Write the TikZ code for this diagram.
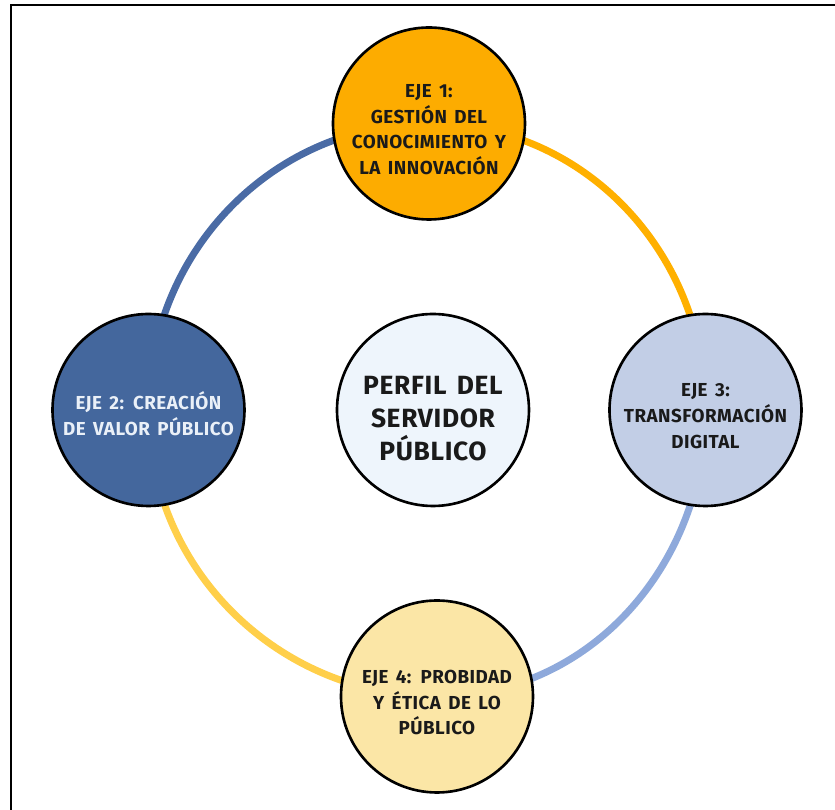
\documentclass[tikz,border=0pt]{standalone}
\usepackage{fontspec}
\setmainfont{Fira Sans}[LetterSpace=2.5, WordSpace=1.5]
\usepackage{tikz}
\usetikzlibrary{calc, backgrounds}

\definecolor{Naranja}{HTML}{FDAC00}
\definecolor{AnilloNaranja}{HTML}{FFB000}
\definecolor{AzulOscuro}{HTML}{44679D}
\definecolor{AnilloAzulOscuro}{HTML}{4A6BA5}
\definecolor{AzulClaro}{HTML}{C2CEE6}
\definecolor{AnilloAzulClaro}{HTML}{8EA9DB}
\definecolor{Crema}{HTML}{FBE6A6}
\definecolor{AnilloAmarillo}{HTML}{FFCF4A}
\definecolor{Hielo}{HTML}{EEF5FC}
\definecolor{Tinta}{HTML}{1A1A1A}
\definecolor{Blanco}{HTML}{EAF0F8}

\providecommand{\bajar}{\rule{0pt}{1.35em}}

\tikzset{
  eje/.style={circle, draw=black, line width=1.5pt, minimum size=3.84cm, inner sep=0pt,
    align=center, text=Tinta, font=\bfseries\fontsize{10.7}{14.6}\selectfont},
  perfil/.style={eje, font=\bfseries\fontsize{15}{18.8}\selectfont},
  anillo/.style={line width=0.14cm},
}

\begin{document}
\begin{tikzpicture}

	\def\rx{5.57}
	\def\ry{5.73}

	\useasboundingbox (-8.54,-8.0) rectangle (8.16,8.2);
	\draw[line width=0.04cm] (-8.32,-9) -- (-8.32,8.09) -- (9,8.09);

	\node[eje, fill=Naranja] (Eje1) at (0.04,\ry) {\bajar EJE 1:\\GESTIÓN DEL\\CONOCIMIENTO Y\\LA INNOVACIÓN};
	\node[eje, fill=AzulOscuro, text=Blanco] (Eje2) at (-\rx,0) {\bajar EJE 2: CREACIÓN\\DE VALOR PÚBLICO};
	\node[eje, fill=AzulClaro] (Eje3) at (\rx,0) {\bajar EJE 3:\\TRANSFORMACIÓN\\DIGITAL};
	\node[eje, fill=Crema] (Eje4) at (0.2,-\ry) {\bajar EJE 4: PROBIDAD\\Y ÉTICA DE LO\\PÚBLICO};
	\node[perfil, fill=Hielo] (Perfil) at (0.12,0) {\bajar PERFIL DEL\\SERVIDOR\\PÚBLICO};

	\begin{scope}[on background layer]
		\draw[anillo, AnilloNaranja] (Eje1.center) to[out=0, in=90] (Eje3.center);
		\draw[anillo, AnilloAzulClaro] (Eje3.center) to[out=-90, in=0] (Eje4.center);
		\draw[anillo, AnilloAmarillo] (Eje4.center) to[out=180, in=-90] (Eje2.center);
		\draw[anillo, AnilloAzulOscuro] (Eje2.center) to[out=90, in=180] (Eje1.center);
	\end{scope}

\end{tikzpicture}
\end{document}
